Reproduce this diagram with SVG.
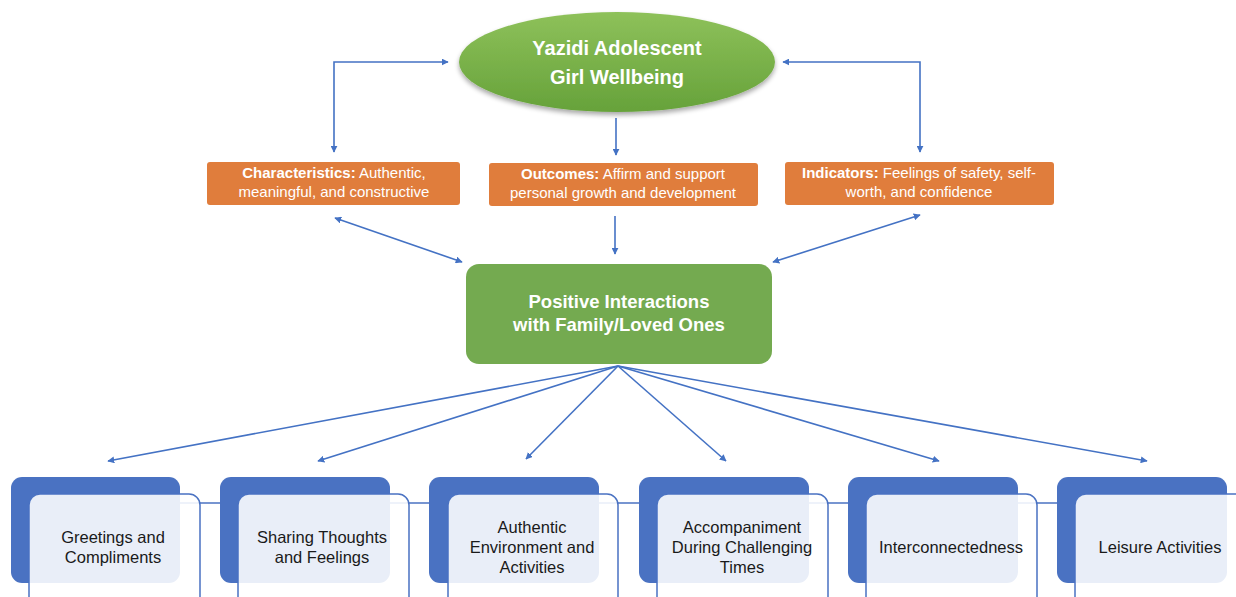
<svg xmlns="http://www.w3.org/2000/svg" width="1236" height="597" viewBox="0 0 1236 597">
  <style>
    .conn { fill: none; stroke: #4472c4; stroke-width: 1.6; }
    .orange { fill: #e07d3c; }
    .otext { font-family: "Liberation Sans", Arial, sans-serif; font-size: 15px; fill: #ffffff; text-anchor: middle; }
    .otext .b { font-weight: bold; }
    .gtext { font-family: "Liberation Sans", Arial, sans-serif; font-weight: bold; fill: #ffffff; text-anchor: middle; }
    .back { fill: #4a72c2; }
    .front { fill: #ffffff; fill-opacity: 0.88; stroke: #4a72c2; stroke-width: 1.5; }
    .link { stroke: #4a72c2; stroke-width: 1.5; }
    .btext { font-family: "Liberation Sans", Arial, sans-serif; font-size: 16.5px; fill: #1a1a1a; text-anchor: middle; }
  </style>
  <defs>
    <marker id="arrow" viewBox="0 0 10 10" refX="9" refY="5" markerWidth="7" markerHeight="7" markerUnits="userSpaceOnUse" orient="auto-start-reverse">
      <path d="M0,0 L10,5 L0,10 z" fill="#4472c4"/>
    </marker>
    <linearGradient id="ovalFill" x1="0" y1="0" x2="0" y2="1">
      <stop offset="0" stop-color="#8ec15a"/>
      <stop offset="1" stop-color="#66a23a"/>
    </linearGradient>
    <filter id="shadow" x="-10%" y="-20%" width="120%" height="150%">
      <feGaussianBlur in="SourceAlpha" stdDeviation="2.5"/>
      <feOffset dy="3" result="b"/>
      <feComponentTransfer><feFuncA type="linear" slope="0.35"/></feComponentTransfer>
      <feMerge><feMergeNode/><feMergeNode in="SourceGraphic"/></feMerge>
    </filter>
  </defs>

  <rect width="1236" height="597" fill="#ffffff"/>

  <!-- connectors -->
  <g id="connectors">
    <polyline class="conn" points="334,152 334,62 448,62" marker-start="url(#arrow)" marker-end="url(#arrow)"/>
    <line class="conn" x1="616" y1="118" x2="616" y2="155" marker-end="url(#arrow)"/>
    <polyline class="conn" points="920,152 920,62 783,62" marker-start="url(#arrow)" marker-end="url(#arrow)"/>
    <line class="conn" x1="335" y1="218" x2="462" y2="262" marker-start="url(#arrow)" marker-end="url(#arrow)"/>
    <line class="conn" x1="615" y1="216" x2="615" y2="254" marker-end="url(#arrow)"/>
    <line class="conn" x1="920" y1="215" x2="773" y2="262" marker-start="url(#arrow)" marker-end="url(#arrow)"/>
    <line class="conn" x1="618" y1="366" x2="108" y2="461" marker-end="url(#arrow)"/>
    <line class="conn" x1="618" y1="366" x2="318" y2="461" marker-end="url(#arrow)"/>
    <line class="conn" x1="618" y1="366" x2="526" y2="459" marker-end="url(#arrow)"/>
    <line class="conn" x1="618" y1="366" x2="726" y2="461" marker-end="url(#arrow)"/>
    <line class="conn" x1="618" y1="366" x2="939" y2="461" marker-end="url(#arrow)"/>
    <line class="conn" x1="618" y1="366" x2="1147" y2="461" marker-end="url(#arrow)"/>
  </g>

  <!-- top oval -->
  <g id="wellbeing">
    <ellipse cx="617" cy="62" rx="158" ry="50" fill="url(#ovalFill)" filter="url(#shadow)"/>
    <text class="gtext" x="617" y="55" font-size="20">Yazidi Adolescent</text>
    <text class="gtext" x="617" y="84" font-size="20">Girl Wellbeing</text>
  </g>

  <!-- orange descriptor boxes -->
  <g id="characteristics">
    <rect class="orange" x="207" y="162" width="253" height="43" rx="3"/>
    <text class="otext" x="334" y="178"><tspan class="b">Characteristics:</tspan> Authentic,</text>
    <text class="otext" x="334" y="197">meaningful, and constructive</text>
  </g>
  <g id="outcomes">
    <rect class="orange" x="489" y="163" width="269" height="43" rx="3"/>
    <text class="otext" x="623" y="179"><tspan class="b">Outcomes:</tspan> Affirm and support</text>
    <text class="otext" x="623" y="198">personal growth and development</text>
  </g>
  <g id="indicators">
    <rect class="orange" x="785" y="162" width="269" height="43" rx="3"/>
    <text class="otext" x="919" y="178"><tspan class="b">Indicators:</tspan> Feelings of safety, self-</text>
    <text class="otext" x="919" y="197">worth, and confidence</text>
  </g>

  <!-- central box -->
  <g id="interactions">
    <rect x="466" y="264" width="306" height="100" rx="13" fill="#74aa50"/>
    <text class="gtext" x="619" y="308" font-size="18.5">Positive Interactions</text>
    <text class="gtext" x="619" y="331" font-size="18.5">with Family/Loved Ones</text>
  </g>

  <!-- bottom row: back tiles and links -->
  <g id="row-back">
    <rect class="back" x="11" y="477" width="169" height="106" rx="11"/>
    <rect class="back" x="220" y="477" width="170" height="106" rx="11"/>
    <rect class="back" x="429" y="477" width="170" height="106" rx="11"/>
    <rect class="back" x="639" y="477" width="170" height="106" rx="11"/>
    <rect class="back" x="848" y="477" width="170" height="106" rx="11"/>
    <rect class="back" x="1057" y="477" width="170" height="106" rx="11"/>
    <line class="link" x1="179" y1="503" x2="221" y2="503"/>
    <line class="link" x1="389" y1="503" x2="430" y2="503"/>
    <line class="link" x1="598" y1="503" x2="640" y2="503"/>
    <line class="link" x1="808" y1="503" x2="849" y2="503"/>
    <line class="link" x1="1017" y1="503" x2="1058" y2="503"/>
  </g>

  <g id="greetings">
    <rect class="front" x="29" y="494" width="171" height="120" rx="11"/>
    <text class="btext" x="113" y="543">Greetings and</text>
    <text class="btext" x="113" y="563">Compliments</text>
  </g>
  <g id="sharing">
    <rect class="front" x="238" y="494" width="171" height="120" rx="11"/>
    <text class="btext" x="322" y="543">Sharing Thoughts</text>
    <text class="btext" x="322" y="563">and Feelings</text>
  </g>
  <g id="environment">
    <rect class="front" x="448" y="494" width="170" height="120" rx="11"/>
    <text class="btext" x="532" y="533">Authentic</text>
    <text class="btext" x="532" y="553">Environment and</text>
    <text class="btext" x="532" y="573">Activities</text>
  </g>
  <g id="accompaniment">
    <rect class="front" x="657" y="494" width="171" height="120" rx="11"/>
    <text class="btext" x="742" y="533">Accompaniment</text>
    <text class="btext" x="742" y="553">During Challenging</text>
    <text class="btext" x="742" y="573">Times</text>
  </g>
  <g id="interconnectedness">
    <rect class="front" x="866" y="494" width="171" height="120" rx="11"/>
    <text class="btext" x="951" y="553">Interconnectedness</text>
  </g>
  <g id="leisure">
    <rect class="front" x="1075" y="494" width="171" height="120" rx="11"/>
    <text class="btext" x="1160" y="553">Leisure Activities</text>
  </g>
</svg>
